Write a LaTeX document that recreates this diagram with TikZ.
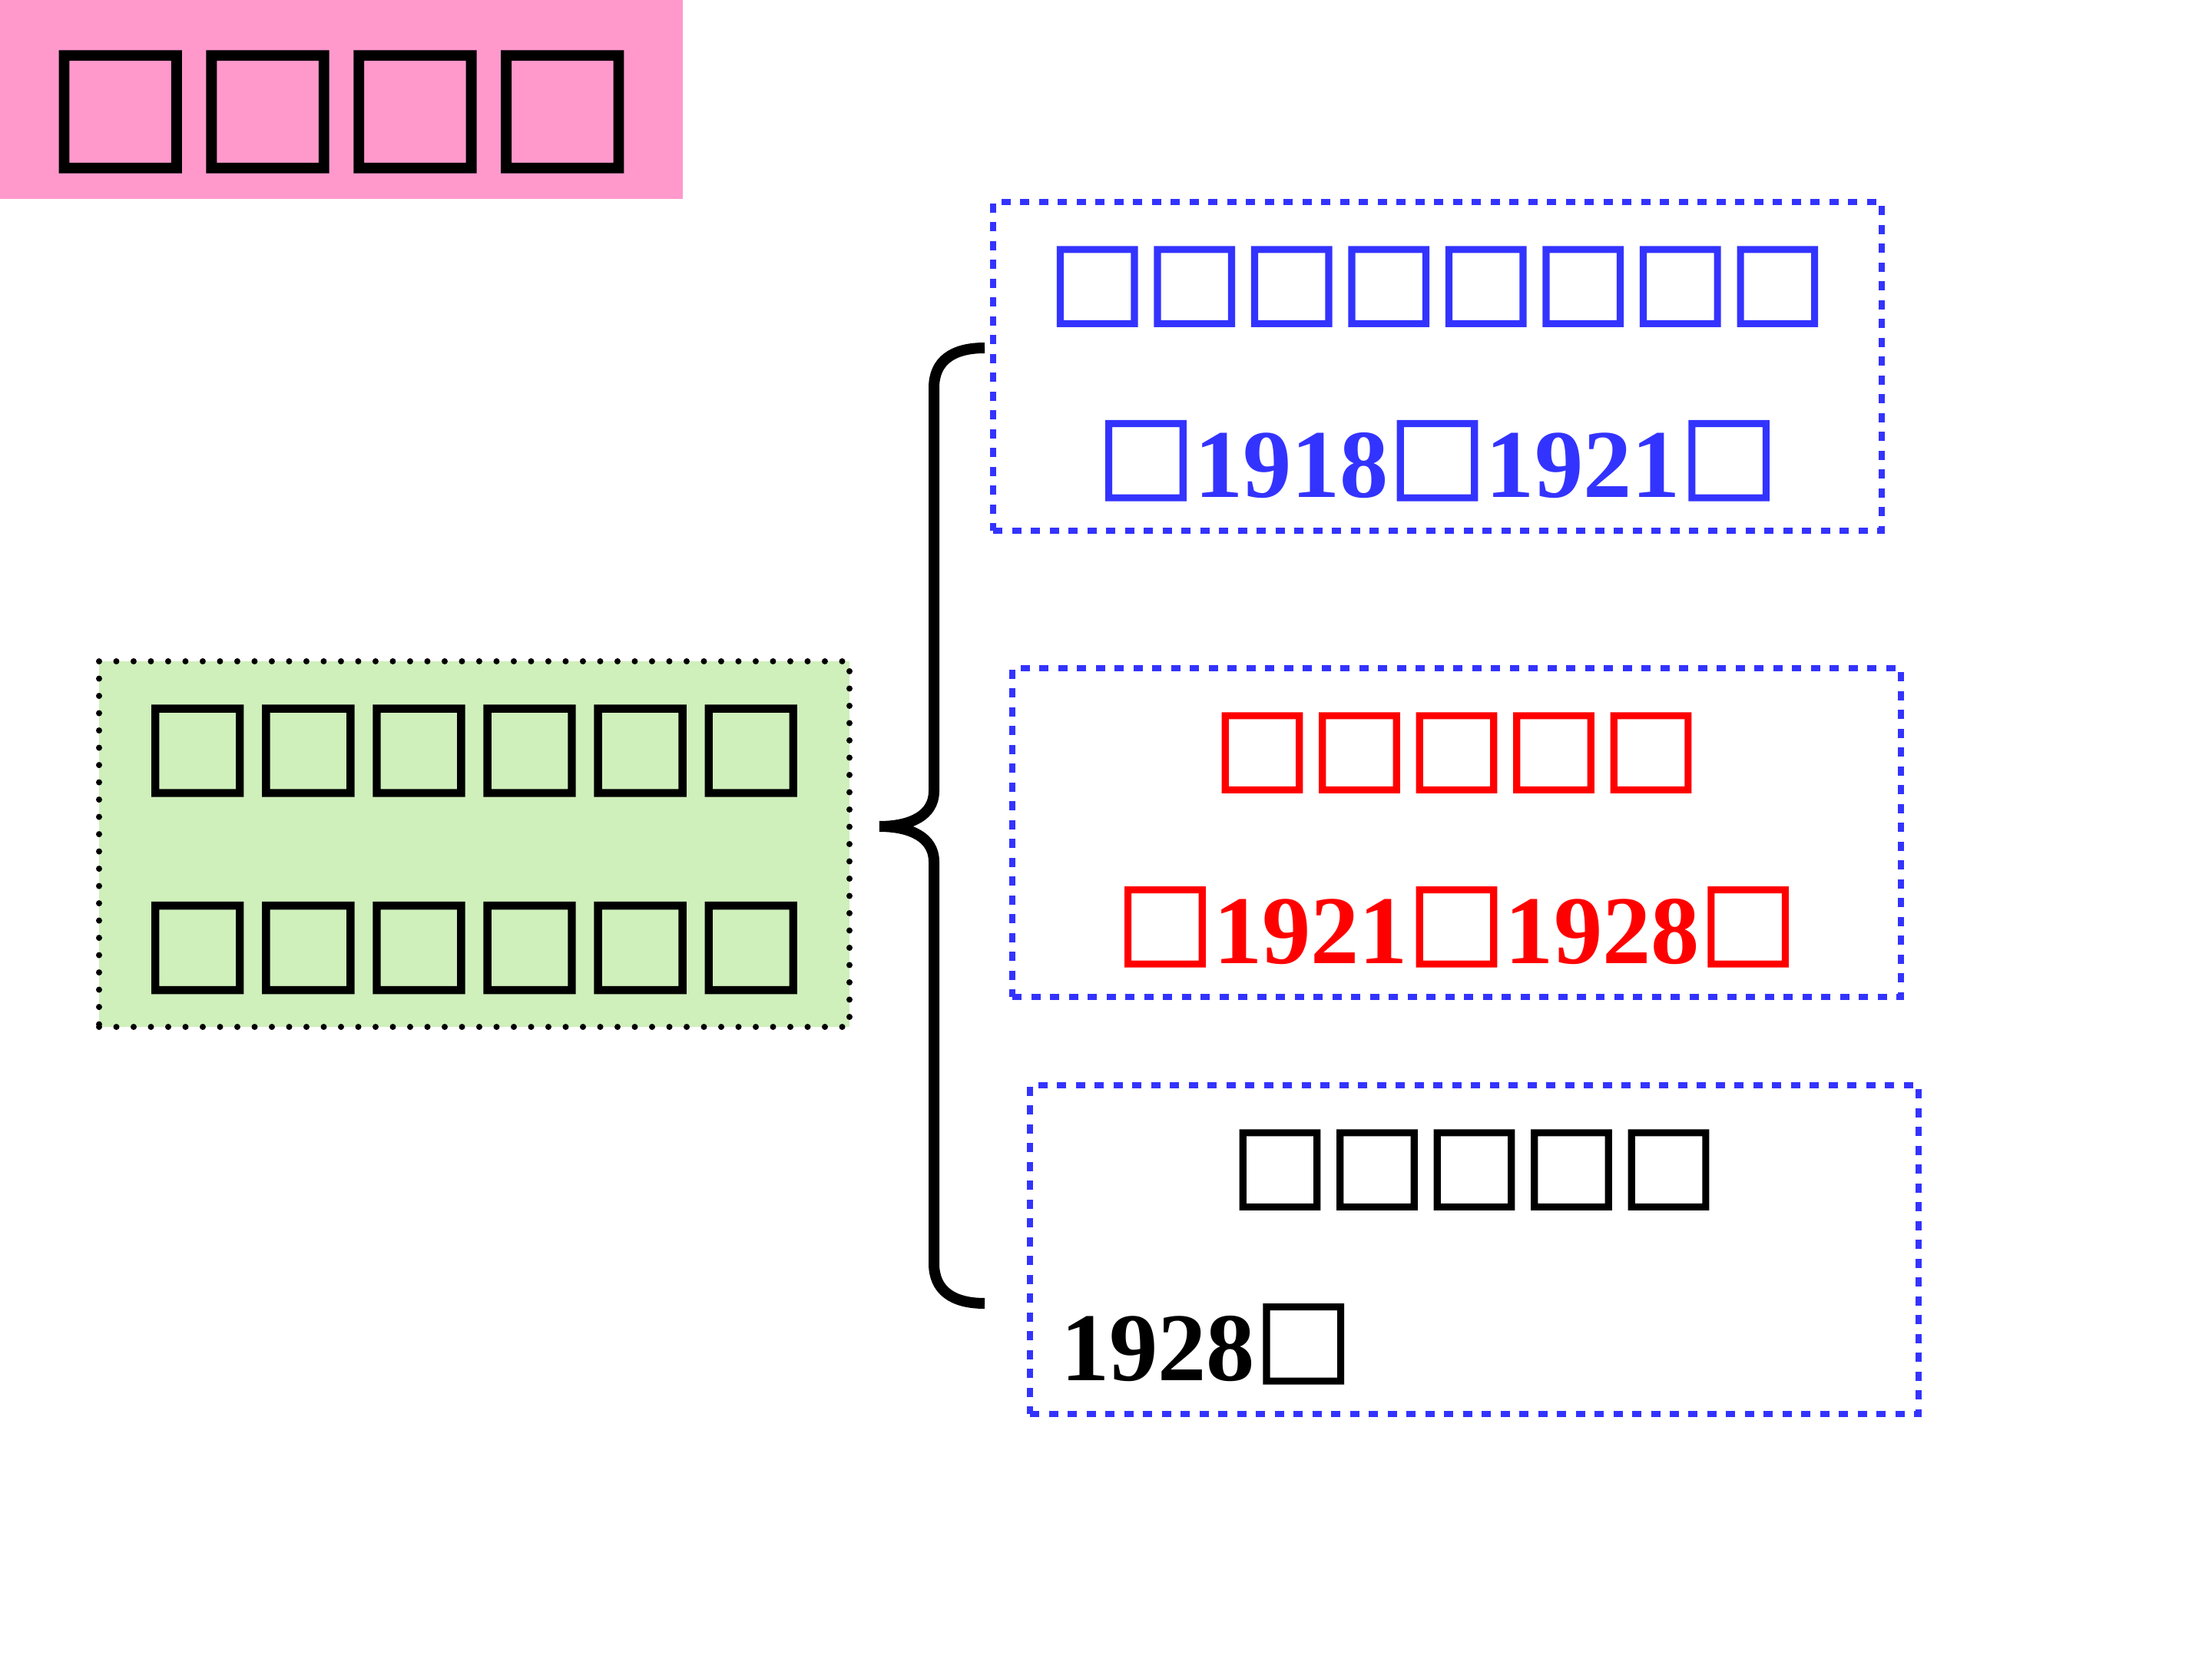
\documentclass[tikz,border=0pt]{standalone}
\usepackage{fontspec}
\setmainfont{Liberation Serif}
\newfontfamily\cjk[AutoFakeBold=3.5]{Noto Sans CJK SC}
\newcommand\topgap{\rule{0pt}{0.93em}}
\definecolor{titlepink}{HTML}{FF99CC}
\definecolor{leafgreen}{HTML}{CFEFBB}
\definecolor{boxblue}{HTML}{3333FF}
\definecolor{datered}{HTML}{FF0000}

\begin{document}
\begin{tikzpicture}[thick,
    every node/.style={font=\bfseries},
    period/.style={draw=boxblue,line width=0.08cm,dash pattern=on 0.12cm off 0.125cm,
        minimum width=11.57cm,minimum height=4.28cm,inner sep=0pt,align=center,
        font=\bfseries\fontsize{36}{64.5}\selectfont}]
        \useasboundingbox (0,0) rectangle (28.8,-21.6);
        \node[fill=titlepink,minimum width=8.89cm,minimum height=2.59cm,inner sep=0pt,
            font=\bfseries\fontsize{54.6}{60}\selectfont] (title) at (4.445,-1.295)
            {\raisebox{-0.16cm}[\height][\depth]{\cjk □□□□}};
        \node[fill=leafgreen,draw=black,line width=0.08cm,line cap=round,dash pattern=on 0pt off 0.225cm,
            minimum width=9.77cm,minimum height=4.76cm,inner sep=0pt,align=center,
            font=\bfseries\fontsize{41}{73}\selectfont] (topic) at (6.175,-10.99) {\rule{0pt}{0.875em}\cjk □□□□□□\\\cjk □□□□□□};
        \node[period,text=boxblue] (p1) at (18.715,-4.77) {\topgap{\cjk □□□□□□□□}\\{\cjk □}1918{\cjk □}1921{\cjk □}};
        \node[period,text=datered] (p2) at (18.965,-10.84) {\topgap{\cjk □□□□□}\\{\cjk □}1921{\cjk □}1928{\cjk □}};
        \node[period,text=black,text width=10.77cm,inner xsep=0.4cm] (p3) at (19.195,-16.27)
            {\topgap{\cjk □□□□□}\\1928{\cjk □}\hspace*{\fill}};
        % brace from the topic box to the three periods
        \coordinate (bt) at (12.82,-4.53);
        \coordinate (tip) at (11.45,-10.76);
        \coordinate (bb) at (12.82,-16.97);
        \draw[line width=0.14cm] (bt) .. controls (12.40,-4.53) and (12.16,-4.70) .. (12.16,-5.05)
            -- (12.16,-10.30) .. controls (12.16,-10.62) and (11.85,-10.76) .. (tip)
            .. controls (11.85,-10.76) and (12.16,-10.90) .. (12.16,-11.22)
            -- (12.16,-16.45) .. controls (12.16,-16.80) and (12.40,-16.97) .. (bb);
    \end{tikzpicture}
\end{document}
